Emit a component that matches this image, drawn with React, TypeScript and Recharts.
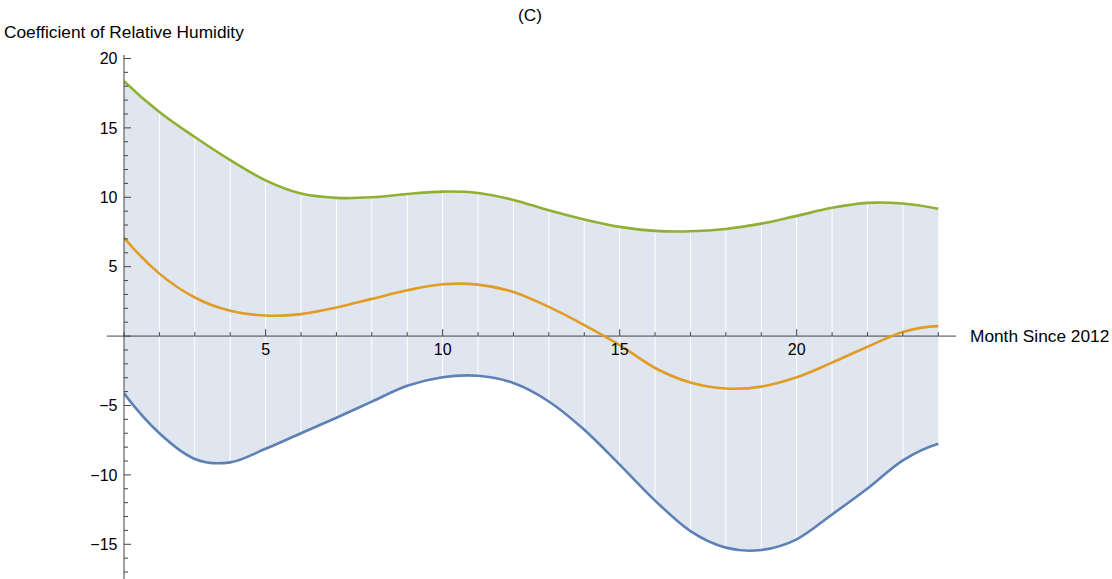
import { ComposedChart, Line, Area, XAxis, YAxis, ReferenceLine } from "recharts"

const months = [1, 2, 3, 4, 5, 6, 7, 8, 9, 10, 11, 12, 13, 14, 15, 16, 17, 18, 19, 20, 21, 22, 23, 24]
const upper = [18.37, 16.14, 14.34, 12.68, 11.22, 10.27, 9.96, 10.0, 10.24, 10.41, 10.31, 9.81, 9.06, 8.4, 7.87, 7.58, 7.55, 7.72, 8.1, 8.66, 9.24, 9.6, 9.55, 9.17]
const estimate = [7.08, 4.5, 2.78, 1.82, 1.48, 1.58, 2.06, 2.68, 3.3, 3.73, 3.71, 3.18, 2.1, 0.79, -0.65, -2.3, -3.35, -3.78, -3.64, -2.97, -1.91, -0.77, 0.3, 0.72]
const lower = [-4.12, -7.0, -8.85, -9.1, -8.12, -7.0, -5.88, -4.72, -3.58, -2.96, -2.86, -3.38, -4.71, -6.75, -9.26, -11.85, -14.05, -15.24, -15.41, -14.64, -12.85, -10.98, -8.95, -7.75]
const xLabels = [5, 10, 15, 20]
const yTicks = [-17, -16, -15, -14, -13, -12, -11, -10, -9, -8, -7, -6, -5, -4, -3, -2, -1, 0, 1, 2, 3, 4, 5, 6, 7, 8, 9, 10, 11, 12, 13, 14, 15, 16, 17, 18, 19, 20]
const meshMonths = months.slice(1, -1)

const W = 1112
const H = 579
const TOP = 55
const X_DOMAIN: [number, number] = [1, 24.5]
const Y_DOMAIN: [number, number] = [-17.5, 20.25]
const AXIS = "#444"

const data = months.map((m, i) => ({
  month: m,
  upper: upper[i],
  estimate: estimate[i],
  lower: lower[i],
  range: [lower[i], upper[i]],
}))

// pixel row of y = 0, where the x axis crosses
const zeroY = TOP + ((Y_DOMAIN[1] - 0) / (Y_DOMAIN[1] - Y_DOMAIN[0])) * (H - TOP)

const fmt = (v: number) => (v < 0 ? `\u2212${Math.abs(v)}` : `${v}`)

// cubic hermite through the points, finite-difference tangents (no flat spots at nodes)
function smoothCurve(context: any) {
  let xs: number[] = []
  let ys: number[] = []
  let line: any
  const tan = (a: number[], i: number) => {
    const n = a.length
    if (n < 2) return 0
    if (n < 3) return a[1] - a[0]
    if (i === 0) return (-3 * a[0] + 4 * a[1] - a[2]) / 2
    if (i === n - 1) return (3 * a[n - 1] - 4 * a[n - 2] + a[n - 3]) / 2
    return (a[i + 1] - a[i - 1]) / 2
  }
  return {
    areaStart() { line = 0 },
    areaEnd() { line = NaN },
    lineStart() { xs = []; ys = [] },
    point(x: number, y: number) { xs.push(+x); ys.push(+y) },
    lineEnd() {
      const n = xs.length
      if (n > 0) {
        if (line) context.lineTo(xs[0], ys[0])
        else context.moveTo(xs[0], ys[0])
        for (let i = 0; i < n - 1; i++) {
          context.bezierCurveTo(
            xs[i] + tan(xs, i) / 3, ys[i] + tan(ys, i) / 3,
            xs[i + 1] - tan(xs, i + 1) / 3, ys[i + 1] - tan(ys, i + 1) / 3,
            xs[i + 1], ys[i + 1]
          )
        }
      }
      if (line || (line !== 0 && n === 1)) context.closePath()
      line = 1 - line
    },
  }
}

function XTick(props: any) {
  const { x, payload } = props
  const v = payload.value
  const major = v % 5 === 0
  return (
    <g>
      <line x1={x} x2={x} y1={zeroY} y2={zeroY - (major ? 7 : 4)} stroke={AXIS} />
      {xLabels.includes(v) && (
        <text x={x} y={zeroY + 19} textAnchor="middle" fontSize={16} fill="#000">
          {v}
        </text>
      )}
    </g>
  )
}

function YTick(props: any) {
  const { x, y, payload } = props
  const v = payload.value
  const major = v % 5 === 0
  return (
    <g>
      <line x1={x} x2={x + (major ? 7 : 4)} y1={y} y2={y} stroke={AXIS} />
      {major && v !== 0 && (
        <text x={x - 6.5} y={y} dy="0.355em" textAnchor="end" fontSize={16} fill="#000">
          {fmt(v)}
        </text>
      )}
    </g>
  )
}

export default function App() {
  return (
    <div
      style={{
        position: "absolute",
        left: 0,
        top: 0,
        width: W,
        height: H,
        background: "#fff",
        fontFamily: "'Liberation Sans', Arial, sans-serif",
        overflow: "hidden",
      }}
    >
      <div style={{ position: "absolute", left: 0, width: 1060, top: 5, textAlign: "center", fontSize: 17.3, lineHeight: "20px" }}>
        (C)
      </div>
      <div style={{ position: "absolute", left: 4, top: 22, fontSize: 17.3, lineHeight: "20px", whiteSpace: "nowrap" }}>
        Coefficient of Relative Humidity
      </div>
      <ComposedChart width={W} height={H + 21} data={data} margin={{ top: TOP, right: 156, bottom: 0, left: 0 }}>
        <XAxis
          type="number"
          dataKey="month"
          domain={X_DOMAIN}
          ticks={months}
          interval={0}
          allowDataOverflow
          axisLine={false}
          tickLine={false}
          height={21}
          tick={<XTick />}
        />
        <YAxis
          type="number"
          domain={Y_DOMAIN}
          ticks={yTicks}
          interval={0}
          allowDataOverflow
          width={124}
          axisLine={{ stroke: AXIS }}
          tickLine={false}
          tickSize={0}
          tickMargin={0}
          tick={<YTick />}
        />
        <Area
          type={smoothCurve as any}
          dataKey="range"
          stroke="none"
          fill="#5e81b5"
          fillOpacity={0.2}
          isAnimationActive={false}
        />
        {meshMonths.map((m, i) => (
          <ReferenceLine
            key={m}
            segment={[{ x: m, y: lower[i + 1] }, { x: m, y: upper[i + 1] }]}
            stroke="#fff"
            strokeWidth={1}
          />
        ))}
        <ReferenceLine
          segment={[{ x: 0.517, y: 0 }, { x: X_DOMAIN[1], y: 0 }]}
          ifOverflow="visible"
          stroke={AXIS}
          label={{ value: "Month Since 2012", position: "right", offset: 14, fontSize: 17.3, fill: "#000" }}
        />
        <Line type={smoothCurve as any} dataKey="lower" stroke="#5e81b5" strokeWidth={2.6} dot={false} isAnimationActive={false} />
        <Line type={smoothCurve as any} dataKey="estimate" stroke="#e19c24" strokeWidth={2.6} dot={false} isAnimationActive={false} />
        <Line type={smoothCurve as any} dataKey="upper" stroke="#8fb032" strokeWidth={2.6} dot={false} isAnimationActive={false} />
      </ComposedChart>
    </div>
  )
}
